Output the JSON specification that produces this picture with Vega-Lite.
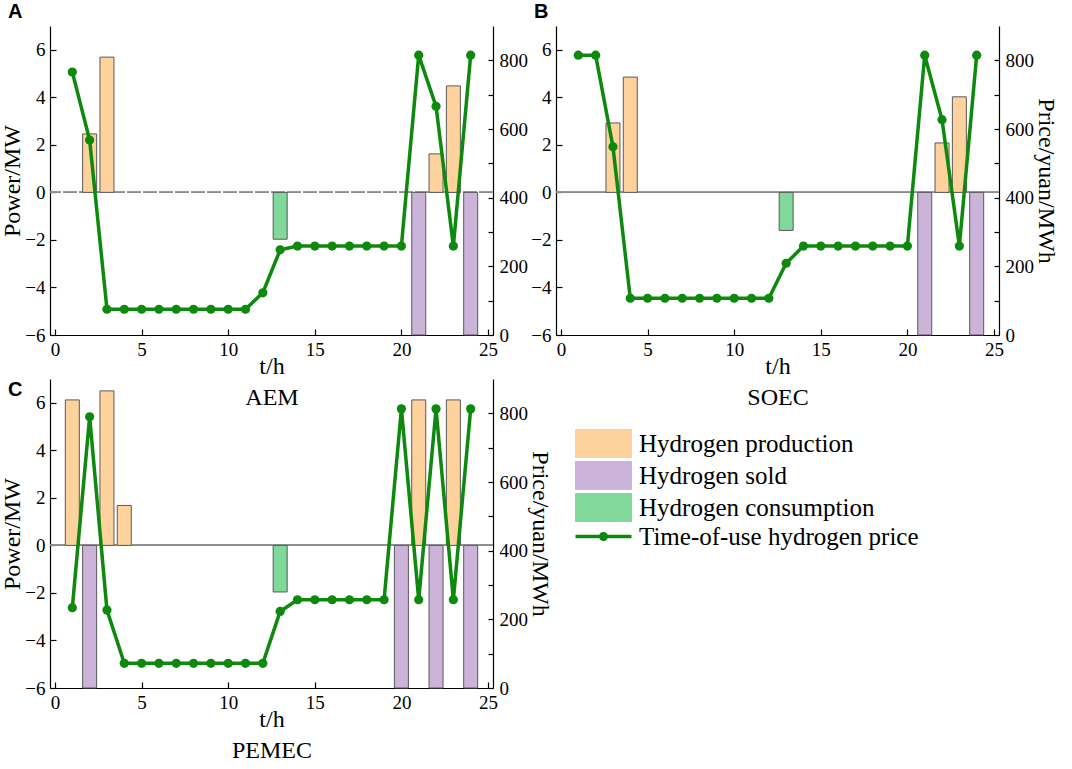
{
  "$schema": "https://vega.github.io/schema/vega-lite/v6.json",
  "background": "white",
  "padding": {"left": 0, "top": 2, "right": 0, "bottom": 0},
  "datasets": {
    "power": [
      {"panel": "A", "t": 2, "series": "Hydrogen production", "p": 2.46},
      {"panel": "A", "t": 3, "series": "Hydrogen production", "p": 5.69},
      {"panel": "A", "t": 13, "series": "Hydrogen consumption", "p": -1.97},
      {"panel": "A", "t": 21, "series": "Hydrogen sold", "p": -6},
      {"panel": "A", "t": 22, "series": "Hydrogen production", "p": 1.62},
      {"panel": "A", "t": 23, "series": "Hydrogen production", "p": 4.48},
      {"panel": "A", "t": 24, "series": "Hydrogen sold", "p": -6},
      {"panel": "B", "t": 3, "series": "Hydrogen production", "p": 2.92},
      {"panel": "B", "t": 4, "series": "Hydrogen production", "p": 4.85},
      {"panel": "B", "t": 13, "series": "Hydrogen consumption", "p": -1.6},
      {"panel": "B", "t": 21, "series": "Hydrogen sold", "p": -6},
      {"panel": "B", "t": 22, "series": "Hydrogen production", "p": 2.08},
      {"panel": "B", "t": 23, "series": "Hydrogen production", "p": 4.02},
      {"panel": "B", "t": 24, "series": "Hydrogen sold", "p": -6},
      {"panel": "C", "t": 1, "series": "Hydrogen production", "p": 6.12},
      {"panel": "C", "t": 2, "series": "Hydrogen sold", "p": -6},
      {"panel": "C", "t": 3, "series": "Hydrogen production", "p": 6.5},
      {"panel": "C", "t": 4, "series": "Hydrogen production", "p": 1.68},
      {"panel": "C", "t": 13, "series": "Hydrogen consumption", "p": -1.96},
      {"panel": "C", "t": 20, "series": "Hydrogen sold", "p": -6},
      {"panel": "C", "t": 21, "series": "Hydrogen production", "p": 6.12},
      {"panel": "C", "t": 22, "series": "Hydrogen sold", "p": -6},
      {"panel": "C", "t": 23, "series": "Hydrogen production", "p": 6.12},
      {"panel": "C", "t": 24, "series": "Hydrogen sold", "p": -6}
    ],
    "price": [
      {"panel": "A", "t": 1, "price": 766}, {"panel": "A", "t": 2, "price": 568},
      {"panel": "A", "t": 3, "price": 75}, {"panel": "A", "t": 4, "price": 75},
      {"panel": "A", "t": 5, "price": 75}, {"panel": "A", "t": 6, "price": 75},
      {"panel": "A", "t": 7, "price": 75}, {"panel": "A", "t": 8, "price": 75},
      {"panel": "A", "t": 9, "price": 75}, {"panel": "A", "t": 10, "price": 75},
      {"panel": "A", "t": 11, "price": 75}, {"panel": "A", "t": 12, "price": 123},
      {"panel": "A", "t": 13, "price": 248}, {"panel": "A", "t": 14, "price": 259},
      {"panel": "A", "t": 15, "price": 259}, {"panel": "A", "t": 16, "price": 259},
      {"panel": "A", "t": 17, "price": 259}, {"panel": "A", "t": 18, "price": 259},
      {"panel": "A", "t": 19, "price": 259}, {"panel": "A", "t": 20, "price": 259},
      {"panel": "A", "t": 21, "price": 815}, {"panel": "A", "t": 22, "price": 666},
      {"panel": "A", "t": 23, "price": 259}, {"panel": "A", "t": 24, "price": 815},
      {"panel": "B", "t": 1, "price": 815}, {"panel": "B", "t": 2, "price": 815},
      {"panel": "B", "t": 3, "price": 548}, {"panel": "B", "t": 4, "price": 107},
      {"panel": "B", "t": 5, "price": 107}, {"panel": "B", "t": 6, "price": 107},
      {"panel": "B", "t": 7, "price": 107}, {"panel": "B", "t": 8, "price": 107},
      {"panel": "B", "t": 9, "price": 107}, {"panel": "B", "t": 10, "price": 107},
      {"panel": "B", "t": 11, "price": 107}, {"panel": "B", "t": 12, "price": 107},
      {"panel": "B", "t": 13, "price": 209}, {"panel": "B", "t": 14, "price": 259},
      {"panel": "B", "t": 15, "price": 259}, {"panel": "B", "t": 16, "price": 259},
      {"panel": "B", "t": 17, "price": 259}, {"panel": "B", "t": 18, "price": 259},
      {"panel": "B", "t": 19, "price": 259}, {"panel": "B", "t": 20, "price": 259},
      {"panel": "B", "t": 21, "price": 815}, {"panel": "B", "t": 22, "price": 627},
      {"panel": "B", "t": 23, "price": 259}, {"panel": "B", "t": 24, "price": 815},
      {"panel": "C", "t": 1, "price": 234}, {"panel": "C", "t": 2, "price": 790},
      {"panel": "C", "t": 3, "price": 227}, {"panel": "C", "t": 4, "price": 72},
      {"panel": "C", "t": 5, "price": 72}, {"panel": "C", "t": 6, "price": 72},
      {"panel": "C", "t": 7, "price": 72}, {"panel": "C", "t": 8, "price": 72},
      {"panel": "C", "t": 9, "price": 72}, {"panel": "C", "t": 10, "price": 72},
      {"panel": "C", "t": 11, "price": 72}, {"panel": "C", "t": 12, "price": 72},
      {"panel": "C", "t": 13, "price": 223}, {"panel": "C", "t": 14, "price": 257},
      {"panel": "C", "t": 15, "price": 257}, {"panel": "C", "t": 16, "price": 257},
      {"panel": "C", "t": 17, "price": 257}, {"panel": "C", "t": 18, "price": 257},
      {"panel": "C", "t": 19, "price": 257}, {"panel": "C", "t": 20, "price": 813},
      {"panel": "C", "t": 21, "price": 257}, {"panel": "C", "t": 22, "price": 813},
      {"panel": "C", "t": 23, "price": 257}, {"panel": "C", "t": 24, "price": 813}
    ]
  },
  "bounds": "flush",
  "columns": 2,
  "spacing": {"row": 44, "column": 63},
  "concat": [
    {
      "width": 443,
      "height": 309,
      "title": {"text": "A", "dx": -42},
      "layer": [
        {
          "data": {"name": "power"},
          "transform": [{"filter": "datum.panel === 'A'"}],
          "layer": [
            {
              "mark": {"type": "rule", "color": "#8c8c8c", "strokeWidth": 1.2, "strokeDash": [14, 2]},
              "encoding": {"y": {"datum": 0, "type": "quantitative"}}
            },
            {
              "mark": {"type": "bar", "width": 14, "stroke": "#5a5a5a", "strokeWidth": 1},
              "encoding": {
                "x": {"field": "t", "type": "quantitative", "scale": {"domain": [0, 25], "nice": false},
                  "axis": {"values": [0, 5, 10, 15, 20, 25], "labelFont": "Liberation Serif", "title": ["t/h", "AEM"]}},
                "y": {"field": "p", "type": "quantitative", "scale": {"domain": [-6, 7], "nice": false},
                  "axis": {"orient": "left", "values": [-6, -5, -4, -3, -2, -1, 0, 1, 2, 3, 4, 5, 6], "labelExpr": "datum.value % 2 === 0 ? datum.label : ''", "labelFont": "Liberation Serif",
                    "tickSize": {"condition": {"test": "datum.value % 2 !== 0", "value": -4}, "value": -6}, "title": "Power/MW"}},
                "color": {
                  "field": "series", "type": "nominal",
                  "scale": {"domain": ["Hydrogen production", "Hydrogen sold", "Hydrogen consumption", "Time-of-use hydrogen price"], "range": ["#fdd29c", "#cbb3d9", "#80d89b", "#0d8a0d"]},
                  "legend": {"encode": {"symbols": {"update": {
                    "shape": {"signal": "datum.value === 'Time-of-use hydrogen price' ? 'M-1,0H3M1.2,0A0.2,0.2,0,1,1,0.8,0A0.2,0.2,0,1,1,1.2,0' : 'M-1,-1H3V1H-1Z'"},
                    "stroke": {"signal": "datum.value === 'Time-of-use hydrogen price' ? '#0d8a0d' : '#5a5a5a'"},
                    "strokeWidth": {"signal": "datum.value === 'Time-of-use hydrogen price' ? 3.5 : 1"},
                    "fill": {"scale": "color", "field": "value"},
                    "size": {"value": 784},
                    "opacity": {"value": 1}
                  }}}}
                }
              }
            }
          ]
        },
        {
          "data": {"name": "price"},
          "transform": [{"filter": "datum.panel === 'A'"}, {"calculate": "'Time-of-use hydrogen price'", "as": "series"}],
          "encoding": {
            "x": {"field": "t", "type": "quantitative"},
            "y": {"field": "price", "type": "quantitative", "scale": {"domain": [0, 900], "nice": false},
              "axis": {"orient": "right", "values": [0, 100, 200, 300, 400, 500, 600, 700, 800], "labelExpr": "datum.value % 200 === 0 ? datum.label : ''", "labelFont": "Liberation Serif",
                "tickSize": -5, "title": null}},
            "color": {
              "field": "series", "type": "nominal",
              "legend": {"encode": {"symbols": {"update": {
                "shape": {"signal": "datum.value === 'Time-of-use hydrogen price' ? 'M-1,0H3M1.2,0A0.2,0.2,0,1,1,0.8,0A0.2,0.2,0,1,1,1.2,0' : 'M-1,-1H3V1H-1Z'"},
                "stroke": {"signal": "datum.value === 'Time-of-use hydrogen price' ? '#0d8a0d' : '#5a5a5a'"},
                "strokeWidth": {"signal": "datum.value === 'Time-of-use hydrogen price' ? 3.5 : 1"},
                "fill": {"scale": "color", "field": "value"},
                "size": {"value": 784},
                "opacity": {"value": 1}
              }}}}
            }
          },
          "layer": [
            {"mark": {"type": "line", "strokeWidth": 3.5}},
            {"mark": {"type": "circle", "size": 85, "opacity": 1}}
          ]
        }
      ],
      "resolve": {"scale": {"y": "independent"}}
    },
    {
      "width": 443,
      "height": 309,
      "title": {"text": "B", "dx": -22},
      "layer": [
        {
          "data": {"name": "power"},
          "transform": [{"filter": "datum.panel === 'B'"}],
          "layer": [
            {
              "mark": {"type": "rule", "color": "#8c8c8c", "strokeWidth": 1.2},
              "encoding": {"y": {"datum": 0, "type": "quantitative"}}
            },
            {
              "mark": {"type": "bar", "width": 14, "stroke": "#5a5a5a", "strokeWidth": 1},
              "encoding": {
                "x": {"field": "t", "type": "quantitative", "scale": {"domain": [0, 25], "nice": false},
                  "axis": {"values": [0, 5, 10, 15, 20, 25], "labelFont": "Liberation Serif", "title": ["t/h", "SOEC"]}},
                "y": {"field": "p", "type": "quantitative", "scale": {"domain": [-6, 7], "nice": false},
                  "axis": {"orient": "left", "values": [-6, -5, -4, -3, -2, -1, 0, 1, 2, 3, 4, 5, 6], "labelExpr": "datum.value % 2 === 0 ? datum.label : ''", "labelFont": "Liberation Serif",
                    "tickSize": {"condition": {"test": "datum.value % 2 !== 0", "value": -4}, "value": -6}, "title": null}},
                "color": {
                  "field": "series", "type": "nominal",
                  "legend": {"encode": {"symbols": {"update": {
                    "shape": {"signal": "datum.value === 'Time-of-use hydrogen price' ? 'M-1,0H3M1.2,0A0.2,0.2,0,1,1,0.8,0A0.2,0.2,0,1,1,1.2,0' : 'M-1,-1H3V1H-1Z'"},
                    "stroke": {"signal": "datum.value === 'Time-of-use hydrogen price' ? '#0d8a0d' : '#5a5a5a'"},
                    "strokeWidth": {"signal": "datum.value === 'Time-of-use hydrogen price' ? 3.5 : 1"},
                    "fill": {"scale": "color", "field": "value"},
                    "size": {"value": 784},
                    "opacity": {"value": 1}
                  }}}}
                }
              }
            }
          ]
        },
        {
          "data": {"name": "price"},
          "transform": [{"filter": "datum.panel === 'B'"}, {"calculate": "'Time-of-use hydrogen price'", "as": "series"}],
          "encoding": {
            "x": {"field": "t", "type": "quantitative"},
            "y": {"field": "price", "type": "quantitative", "scale": {"domain": [0, 900], "nice": false},
              "axis": {"orient": "right", "values": [0, 100, 200, 300, 400, 500, 600, 700, 800], "labelExpr": "datum.value % 200 === 0 ? datum.label : ''", "labelFont": "Liberation Serif",
                "tickSize": -5, "title": "Price/yuan/MWh"}},
            "color": {
              "field": "series", "type": "nominal",
              "legend": {"encode": {"symbols": {"update": {
                "shape": {"signal": "datum.value === 'Time-of-use hydrogen price' ? 'M-1,0H3M1.2,0A0.2,0.2,0,1,1,0.8,0A0.2,0.2,0,1,1,1.2,0' : 'M-1,-1H3V1H-1Z'"},
                "stroke": {"signal": "datum.value === 'Time-of-use hydrogen price' ? '#0d8a0d' : '#5a5a5a'"},
                "strokeWidth": {"signal": "datum.value === 'Time-of-use hydrogen price' ? 3.5 : 1"},
                "fill": {"scale": "color", "field": "value"},
                "size": {"value": 784},
                "opacity": {"value": 1}
              }}}}
            }
          },
          "layer": [
            {"mark": {"type": "line", "strokeWidth": 3.5}},
            {"mark": {"type": "circle", "size": 85, "opacity": 1}}
          ]
        }
      ],
      "resolve": {"scale": {"y": "independent"}}
    },
    {
      "width": 443,
      "height": 309,
      "title": {"text": "C", "dx": -42, "dy": 25},
      "layer": [
        {
          "data": {"name": "power"},
          "transform": [{"filter": "datum.panel === 'C'"}],
          "layer": [
            {
              "mark": {"type": "rule", "color": "#8c8c8c", "strokeWidth": 1.2},
              "encoding": {"y": {"datum": 0, "type": "quantitative"}}
            },
            {
              "mark": {"type": "bar", "width": 14, "stroke": "#5a5a5a", "strokeWidth": 1},
              "encoding": {
                "x": {"field": "t", "type": "quantitative", "scale": {"domain": [0, 25], "nice": false},
                  "axis": {"values": [0, 5, 10, 15, 20, 25], "labelFont": "Liberation Serif", "title": ["t/h", "PEMEC"]}},
                "y": {"field": "p", "type": "quantitative", "scale": {"domain": [-6, 7], "nice": false},
                  "axis": {"orient": "left", "values": [-6, -5, -4, -3, -2, -1, 0, 1, 2, 3, 4, 5, 6], "labelExpr": "datum.value % 2 === 0 ? datum.label : ''", "labelFont": "Liberation Serif",
                    "tickSize": {"condition": {"test": "datum.value % 2 !== 0", "value": -4}, "value": -6}, "title": "Power/MW"}},
                "color": {
                  "field": "series", "type": "nominal",
                  "legend": {"encode": {"symbols": {"update": {
                    "shape": {"signal": "datum.value === 'Time-of-use hydrogen price' ? 'M-1,0H3M1.2,0A0.2,0.2,0,1,1,0.8,0A0.2,0.2,0,1,1,1.2,0' : 'M-1,-1H3V1H-1Z'"},
                    "stroke": {"signal": "datum.value === 'Time-of-use hydrogen price' ? '#0d8a0d' : '#5a5a5a'"},
                    "strokeWidth": {"signal": "datum.value === 'Time-of-use hydrogen price' ? 3.5 : 1"},
                    "fill": {"scale": "color", "field": "value"},
                    "size": {"value": 784},
                    "opacity": {"value": 1}
                  }}}}
                }
              }
            }
          ]
        },
        {
          "data": {"name": "price"},
          "transform": [{"filter": "datum.panel === 'C'"}, {"calculate": "'Time-of-use hydrogen price'", "as": "series"}],
          "encoding": {
            "x": {"field": "t", "type": "quantitative"},
            "y": {"field": "price", "type": "quantitative", "scale": {"domain": [0, 900], "nice": false},
              "axis": {"orient": "right", "values": [0, 100, 200, 300, 400, 500, 600, 700, 800], "labelExpr": "datum.value % 200 === 0 ? datum.label : ''", "labelFont": "Liberation Serif",
                "tickSize": -5, "title": "Price/yuan/MWh"}},
            "color": {
              "field": "series", "type": "nominal",
              "legend": {"encode": {"symbols": {"update": {
                "shape": {"signal": "datum.value === 'Time-of-use hydrogen price' ? 'M-1,0H3M1.2,0A0.2,0.2,0,1,1,0.8,0A0.2,0.2,0,1,1,1.2,0' : 'M-1,-1H3V1H-1Z'"},
                "stroke": {"signal": "datum.value === 'Time-of-use hydrogen price' ? '#0d8a0d' : '#5a5a5a'"},
                "strokeWidth": {"signal": "datum.value === 'Time-of-use hydrogen price' ? 3.5 : 1"},
                "fill": {"scale": "color", "field": "value"},
                "size": {"value": 784},
                "opacity": {"value": 1}
              }}}}
            }
          },
          "layer": [
            {"mark": {"type": "line", "strokeWidth": 3.5}},
            {"mark": {"type": "circle", "size": 85, "opacity": 1}}
          ]
        }
      ],
      "resolve": {"scale": {"y": "independent"}}
    }
  ],
  "config": {
    "view": {"stroke": null},
    "style": {"guide-label": {"font": "Liberation Serif"}, "guide-title": {"font": "Liberation Serif"}},
    "title": {"font": "Liberation Sans", "fontSize": 20, "fontWeight": "bold", "anchor": "start", "frame": "group", "baseline": "bottom", "offset": 0, "color": "#000"},
    "axis": {
      "grid": false,
      "labelFont": "Liberation Serif",
      "labelFontSize": 19,
      "labelColor": "#000",
      "labelFlush": false,
      "labelOverlap": false,
      "labelPadding": 11,
      "titleFont": "Liberation Serif",
      "titleFontSize": 24,
      "titleFontWeight": "normal",
      "titleColor": "#000",
      "titleLineHeight": 31,
      "titlePadding": 0,
      "domainColor": "#000",
      "domainWidth": 1.2,
      "tickColor": "#000",
      "tickWidth": 1.2,
      "tickSize": -6
    },
    "axisX": {"titlePadding": -5},
    "legend": {
      "orient": "none",
      "legendX": 527,
      "legendY": 405,
      "title": null,
      "padding": 0,
      "symbolSize": 784,
      "symbolStrokeWidth": 1,
      "labelFont": "Liberation Serif",
      "labelFontSize": 25,
      "labelColor": "#000",
      "labelOffset": 37,
      "labelLimit": 400,
      "rowPadding": -1
    }
  },
  "resolve": {"legend": {"color": "shared"}}
}
